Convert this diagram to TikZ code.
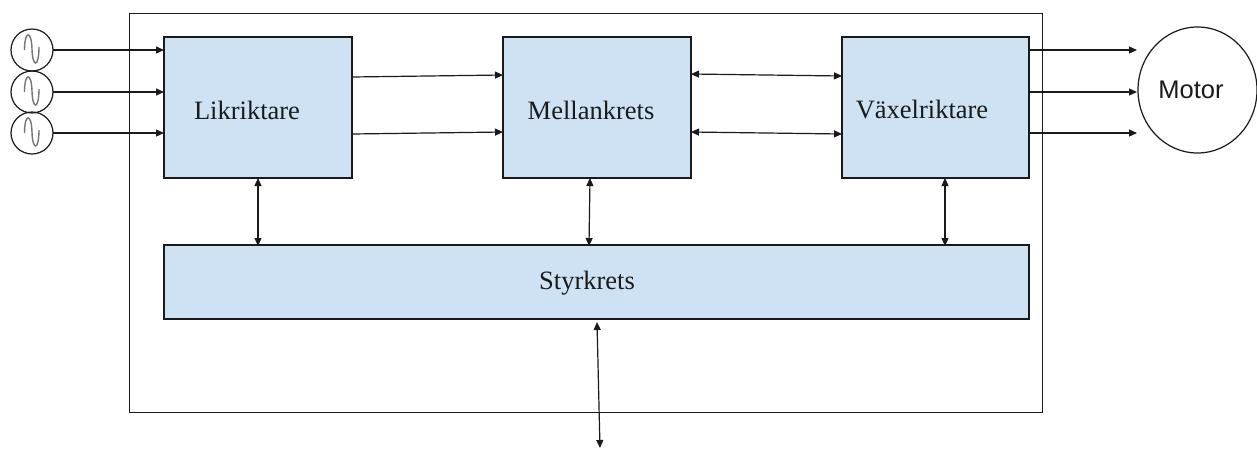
\documentclass[tikz,border=0pt]{standalone}
\usepackage{fontspec}
\setmainfont{Liberation Serif}
\newfontfamily\motorfont{Liberation Sans}
\usetikzlibrary{arrows.meta,shapes.geometric}
\definecolor{boxblue}{HTML}{CFE2F3}
\definecolor{ink}{HTML}{1A1A1A}
\tikzset{
  blockbox/.style={draw=ink,line width=1.2pt,fill=boxblue,minimum width=#1,minimum height=141pt,inner sep=0pt,outer sep=0pt,anchor=north west},
  blocklabel/.style={font=\fontsize{26.5}{30}\selectfont,text=ink,inner sep=0pt},
  link/.style={draw=ink,line width=1.2pt,-{Triangle[length=8pt,width=7pt]}},
  dlink/.style={draw=ink,line width=1.2pt,{Triangle[length=8pt,width=7pt]}-{Triangle[length=8pt,width=7pt]}},
  sourcecirc/.style={circle,draw=ink,line width=1.2pt,minimum size=42pt,inner sep=0pt,outer sep=0pt},
}
\begin{document}
\begin{tikzpicture}[x=1pt,y=-1pt]
\useasboundingbox (0,0) rectangle (1257,448);
\fill[white] (0,0) rectangle (1257,448);
\node[draw=ink,line width=1.2pt,minimum width=913pt,minimum height=399pt,inner sep=0pt,anchor=north west] (outer) at (129,13) {};
\node[blockbox=188pt] (lik) at (164,37) {};
\node[blockbox=188pt] (mel) at (503,37) {};
\node[blockbox=187pt] (vax) at (842,37) {};
\node[blockbox=865pt,minimum height=74pt] (sty) at (164,245) {};
\node[blocklabel] (liklabel) at (247,110) {Likriktare};
\node[blocklabel] (mellabel) at (591,110) {Mellankrets};
\node[blocklabel] (vaxlabel) at (922,110) {Växelriktare};
\node[blocklabel] (stylabel) at (587,283) {Styrkrets};
\node[sourcecirc] (s1) at (32,50) {};
\node[sourcecirc] (s2) at (32,92) {};
\node[sourcecirc] (s3) at (32,133) {};
\foreach \n in {s1,s2,s3}{
  \draw[ink!60,line width=1.4pt] ([shift={(-7.5,0)}]\n.center) .. controls ([shift={(-7.5,-20)}]\n.center) and ([shift={(-0.5,-20)}]\n.center) .. ([shift={(0,-1)}]\n.center) .. controls ([shift={(0.5,18)}]\n.center) and ([shift={(7,18)}]\n.center) .. ([shift={(7,-3)}]\n.center);
}
\node[ellipse,draw=ink,line width=1.2pt,minimum width=119pt,minimum height=126pt,inner sep=0pt,outer sep=0pt] (motor) at (1197.5,90) {};
\node[font=\motorfont\fontsize{25.5}{28}\selectfont,text=ink,inner sep=0pt] (motorlabel) at (1191,90) {Motor};
% free ends and slightly slanted link ends
\coordinate (a1) at (164,50);\coordinate (a2) at (164,92);\coordinate (a3) at (164,133);
\coordinate (b1s) at (352,77);\coordinate (b1e) at (503,75);
\coordinate (b2s) at (352,134);\coordinate (b2e) at (503,132);
\coordinate (c1s) at (691,74);\coordinate (c1e) at (842,76);
\coordinate (c2s) at (691,132);\coordinate (c2e) at (842,134);
\coordinate (d1) at (1137,50);\coordinate (d2) at (1137,92);\coordinate (d3) at (1137,133);
\coordinate (e1s) at (1029,50);\coordinate (e2s) at (1029,92);\coordinate (e3s) at (1029,133);
\coordinate (f1s) at (258,178);\coordinate (f1e) at (258,246);
\coordinate (f2s) at (590,178);\coordinate (f2e) at (589,246);
\coordinate (f3s) at (945,178);\coordinate (f3e) at (945,246);
\coordinate (g1) at (597,322);\coordinate (g2) at (600,448);
\draw[link] (s1.east) -- (a1);
\draw[link] (s2.east) -- (a2);
\draw[link] (s3.east) -- (a3);
\draw[link] (b1s) -- (b1e);
\draw[link] (b2s) -- (b2e);
\draw[dlink] (c1s) -- (c1e);
\draw[dlink] (c2s) -- (c2e);
\draw[link] (e1s) -- (d1);
\draw[link] (e2s) -- (d2);
\draw[link] (e3s) -- (d3);
\draw[dlink] (f1s) -- (f1e);
\draw[dlink] (f2s) -- (f2e);
\draw[dlink] (f3s) -- (f3e);
\draw[dlink] (g1) -- (g2);
\end{tikzpicture}
\end{document}
